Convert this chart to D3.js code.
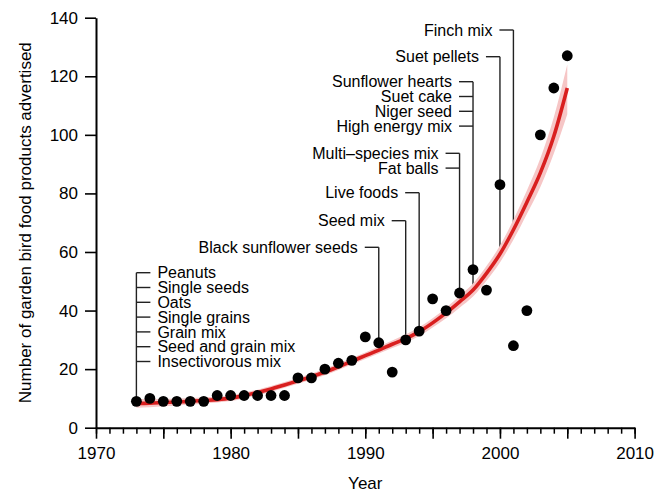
<!DOCTYPE html>
<html>
<head>
<meta charset="utf-8">
<script src="https://cdn.jsdelivr.net/npm/d3@7"></script>
<style>
  body { margin: 0; background: #fff; }
  svg text { font-family: "Liberation Sans", Arial, sans-serif; fill: #000; }
</style>
</head>
<body>
<div id="chart"></div>
<script>
// observed counts per year
const years = [1973,1974,1975,1976,1977,1978,1979,1980,1981,1982,1983,1984,1985,1986,1987,1988,1989,
               1990,1991,1992,1993,1994,1995,1996,1997,1998,1999,2000,2001,2002,2003,2004,2005];
const counts = [9,10,9,9,9,9,11,11,11,11,11,11,17,17,20,22,23,
                31,29,19,30,33,44,40,46,54,47,83,28,40,100,116,127];

// fitted trend + band
const fitMid = [8.3,8.4,8.6,8.8,9.0,9.3,9.6,10.1,11.0,12.0,13.2,14.6,16.0,17.4,19.0,20.8,22.7,
                24.6,26.5,28.5,30.4,32.8,35.8,39.2,43.0,47.0,52.7,59.3,67.6,77.0,87.0,99.5,116.0];
const fitLower = [6.8,7.0,7.3,7.6,7.9,8.2,8.6,9.1,10.0,11.0,12.2,13.6,15.0,16.4,17.9,19.7,21.6,
                  23.5,25.3,27.2,29.0,31.3,34.2,37.4,41.0,44.8,50.2,56.4,64.2,73.0,82.2,93.6,107.0];
const fitUpper = [9.8,9.8,9.9,10.0,10.1,10.4,10.6,11.1,12.0,13.0,14.2,15.6,17.0,18.4,20.1,21.9,23.8,
                  25.7,27.7,29.8,31.8,34.3,37.4,41.0,45.0,49.2,55.2,62.2,71.0,81.0,92.0,106.0,124.0];

// axis ticks
const yTicks = [0,20,40,60,80,100,120,140];
const xMajorTicks = [1970,1975,1980,1985,1990,1995,2000,2005,2010];
const xLabelTicks = [1970,1980,1990,2000,2010];

// product introductions
const annoYears = [1973,1991,1993,1994,1997,1998,2000,2001];
const annoLabels = [
  ["Peanuts","Single seeds","Oats","Single grains","Grain mix","Seed and grain mix","Insectivorous mix"],
  ["Black sunflower seeds"],
  ["Seed mix"],
  ["Live foods"],
  ["Multi\u2013species mix","Fat balls"],
  ["Sunflower hearts","Suet cake","Niger seed","High energy mix"],
  ["Suet pellets"],
  ["Finch mix"]
];

const width = 670, height = 493;
// layout: pixel y of first label in each group, and which side the text goes
const annoTop = [272.7, 247.3, 220.7, 192.7, 153.3, 81.7, 56.7, 30];
const annoSide = ["right","left","left","left","left","left","left","left"];
const lineGap = 14.8;

const svg = d3.select("#chart")
  .append("svg")
    .attr("width", width)
    .attr("height", height);

const x = d3.scaleLinear().domain([1970, 2010]).range([96, 634.6]);
const y = d3.scaleLinear().domain([0, 140]).range([427.7, 17.7]);

// annotation brackets
annoYears.forEach(function(yr, gi) {
  var i = years.indexOf(yr);
  var g = svg.append("g").attr("class", "anno");
  var labels = annoLabels[gi];
  var top = annoTop[gi];
  var bottom = y(fitMid[i]);
  var lx = x(yr);

  g.append("line")
    .attr("x1", lx).attr("x2", lx)
    .attr("y1", top).attr("y2", bottom)
    .attr("stroke", "#222").attr("stroke-width", 1.4);

  labels.forEach(function(lab, j) {
    var ly = top + j * lineGap;
    var dir = annoSide[gi] == "right" ? 1 : -1;
    g.append("line")
      .attr("x1", lx).attr("x2", lx + dir * 14)
      .attr("y1", ly).attr("y2", ly)
      .attr("stroke", "#222").attr("stroke-width", 1.4);
    g.append("text")
      .attr("x", lx + dir * 21)
      .attr("y", ly)
      .attr("dy", "0.36em")
      .attr("text-anchor", dir == 1 ? "start" : "end")
      .attr("font-size", "16px")
      .text(lab);
  });
});

// confidence band and fitted line
const band = d3.area()
  .x(function(d, i) { return x(years[i]); })
  .y0(function(d, i) { return y(fitLower[i]); })
  .y1(function(d, i) { return y(fitUpper[i]); })
  .curve(d3.curveMonotoneX);

svg.append("path")
  .datum(fitMid)
  .attr("d", band)
  .attr("fill", "#f6c6c6");

const line = d3.line()
  .x(function(d, i) { return x(years[i]); })
  .y(function(d) { return y(d); })
  .curve(d3.curveMonotoneX);

svg.append("path")
  .datum(fitMid)
  .attr("d", line)
  .attr("fill", "none")
  .attr("stroke", "#d91f1f")
  .attr("stroke-width", 3.6);

// points
svg.append("g")
  .selectAll("circle")
  .data(counts)
  .enter()
  .append("circle")
    .attr("cx", function(d, i) { return x(years[i]); })
    .attr("cy", function(d) { return y(d); })
    .attr("r", 5.4)
    .attr("fill", "#000");

// axes
const xMinor = svg.append("g")
  .attr("transform", "translate(0," + y(0) + ")")
  .call(d3.axisBottom(x).tickValues(d3.range(1970, 2011)).tickSize(6).tickSizeOuter(0).tickFormat(""));
xMinor.select(".domain").remove();
xMinor.selectAll("line").attr("stroke", "#000").attr("stroke-width", 1.5);

const xAxis = svg.append("g")
  .attr("transform", "translate(0," + y(0) + ")")
  .call(d3.axisBottom(x).tickValues(xMajorTicks).tickSize(11).tickSizeOuter(0).tickPadding(8)
        .tickFormat(function(d) { return xLabelTicks.indexOf(d) >= 0 ? d : ""; }));

const yAxis = svg.append("g")
  .attr("transform", "translate(" + x(1970) + ",0)")
  .call(d3.axisLeft(y).tickValues(yTicks).tickSize(11).tickSizeOuter(0).tickPadding(7));

[xAxis, yAxis].forEach(function(ax) {
  ax.select(".domain").attr("stroke", "#000").attr("stroke-width", 2);
  ax.selectAll(".tick line").attr("stroke", "#000").attr("stroke-width", 1.6);
  ax.selectAll(".tick text")
    .attr("font-size", "17px")
    .attr("font-family", "Liberation Sans, Arial, sans-serif")
    .attr("fill", "#000");
});

svg.append("text")
  .attr("x", (x(1970) + x(2010)) / 2)
  .attr("y", 489)
  .attr("text-anchor", "middle")
  .attr("font-size", "17px")
  .text("Year");

svg.append("text")
  .attr("transform", "translate(30.5," + (y(0) + y(140)) / 2 + ") rotate(-90)")
  .attr("text-anchor", "middle")
  .attr("font-size", "17px")
  .text("Number of garden bird food products advertised");
</script>
</body>
</html>
